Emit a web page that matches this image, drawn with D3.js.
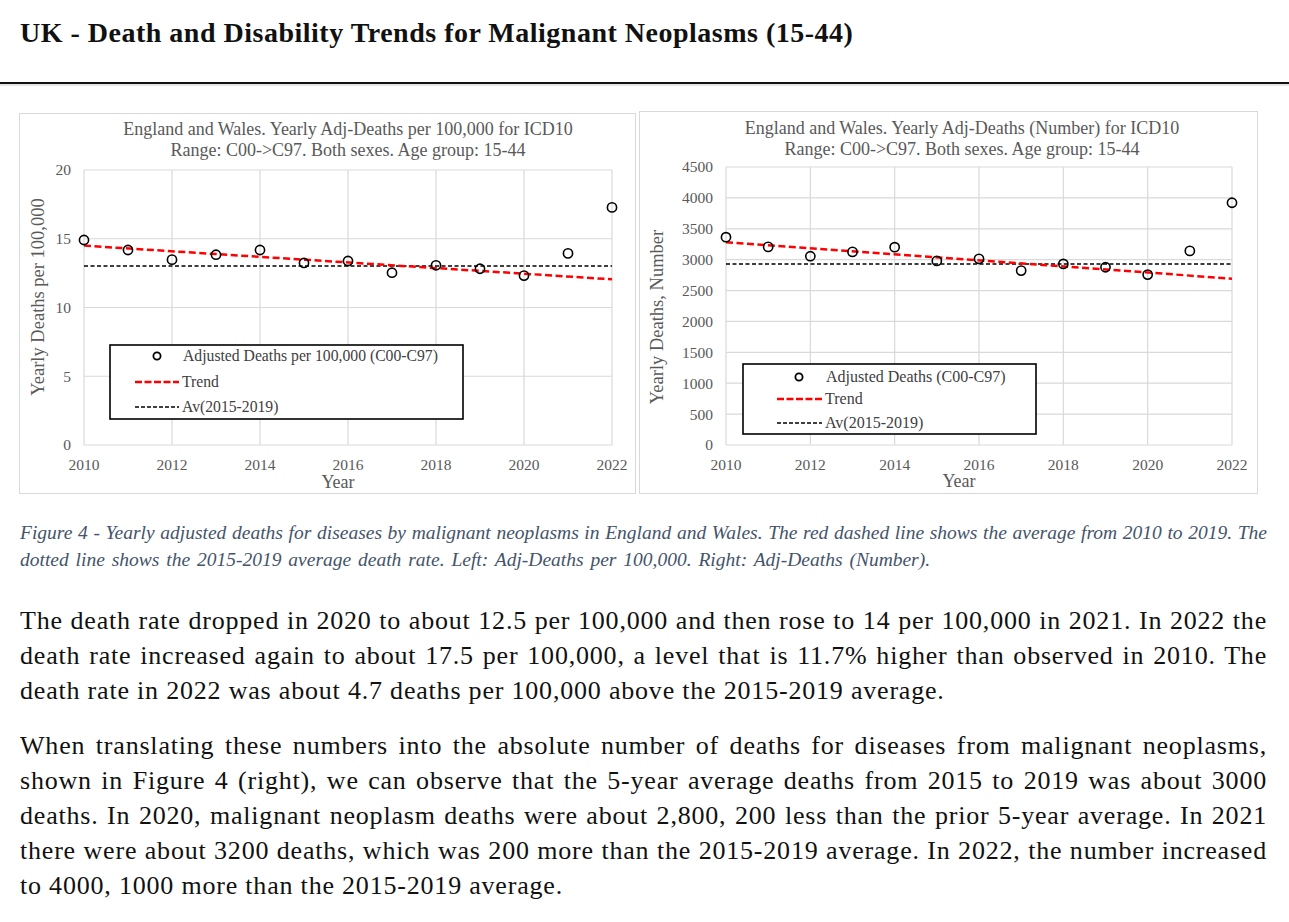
<!DOCTYPE html>
<html>
  <head>
    <meta charset="utf-8">
    <title>UK - Malignant Neoplasms (15-44)</title>
    <script src="https://cdn.jsdelivr.net/npm/d3@7/dist/d3.min.js"></script>
    <style>
      body { margin: 0; background: #fff; font-family: "Liberation Serif", "DejaVu Serif", serif; }
      #page { position: relative; width: 1289px; height: 922px; overflow: hidden; }
      svg { position: absolute; left: 0; top: 0; }
      .line { position: absolute; left: 20px; width: 1247px; white-space: nowrap; text-align: justify; }
      .line.full { text-align-last: justify; }
      .cap { font-style: italic; font-size: 19.5px; line-height: 27px; color: #44546a; }
      .cap.last { word-spacing: 2px; }
      .body { font-size: 26px; line-height: 35px; letter-spacing: 0.8px; color: #111; }
    </style>
  </head>
  <body>
    <div id="page"></div>
    <script>
      // values
      var years = [2010, 2011, 2012, 2013, 2014, 2015, 2016, 2017, 2018, 2019, 2020, 2021, 2022];
      var ratePer100k = [14.91, 14.18, 13.48, 13.84, 14.18, 13.24, 13.38, 12.53, 13.07, 12.82, 12.32, 13.94, 17.28];
      var deathsNumber = [3364, 3207, 3056, 3126, 3202, 2980, 3013, 2823, 2931, 2877, 2758, 3142, 3921];
      var lineYears = [2010, 2022];
      var rateTrend = [14.5, 12.05];
      var numberTrend = [3283, 2693];
      var rateAvg = [13.02, 13.02];
      var numberAvg = [2930, 2930];
      var xTicks = [2010, 2012, 2014, 2016, 2018, 2020, 2022];
      var rateTicks = [0, 5, 10, 15, 20];
      var numberTicks = [0, 500, 1000, 1500, 2000, 2500, 3000, 3500, 4000, 4500];

      var page = d3.select("#page");
      var svg = page.append("svg").attr("width", 1289).attr("height", 922);

      // heading + rule
      svg.append("text").attr("x", 20).attr("y", 42)
          .attr("font-size", 28).attr("font-weight", "bold").attr("letter-spacing", 0.5).attr("fill", "#111")
          .text("UK - Death and Disability Trends for Malignant Neoplasms (15-44)");
      svg.append("line").attr("x1", 0).attr("x2", 1289).attr("y1", 83).attr("y2", 83)
          .attr("stroke", "#111").attr("stroke-width", 2);
      svg.append("line").attr("x1", 0).attr("x2", 1289).attr("y1", 85).attr("y2", 85)
          .attr("stroke", "#ccc").attr("stroke-width", 1);

      function drawChart(c) {
        var g = svg.append("g");
        g.append("rect").attr("x", c.box[0]).attr("y", c.box[1])
            .attr("width", c.box[2]).attr("height", c.box[3])
            .attr("fill", "#fff").attr("stroke", "#d9d9d9");

        var x = d3.scaleLinear().domain([2010, 2022]).range([c.plot[0], c.plot[1]]);
        var y = d3.scaleLinear().domain([0, c.yMax]).range([c.plot[3], c.plot[2]]);

        // gridlines
        g.selectAll(".hg").data(c.yTicks).enter().append("line")
            .attr("x1", x(2010)).attr("x2", x(2022))
            .attr("y1", function (d) { return y(d); }).attr("y2", function (d) { return y(d); })
            .attr("stroke", "#d9d9d9").attr("stroke-width", 1.2);
        g.selectAll(".vg").data(xTicks).enter().append("line")
            .attr("x1", function (d) { return x(d); }).attr("x2", function (d) { return x(d); })
            .attr("y1", y(0)).attr("y2", y(c.yMax))
            .attr("stroke", "#d9d9d9").attr("stroke-width", 1.2);

        // tick labels
        g.selectAll(".yt").data(c.yTicks).enter().append("text")
            .attr("x", c.plot[0] - 13).attr("y", function (d) { return y(d); })
            .attr("dy", "0.35em").attr("text-anchor", "end")
            .attr("font-size", 15.5).attr("fill", "#595959").text(function (d) { return d; });
        g.selectAll(".xt").data(xTicks).enter().append("text")
            .attr("x", function (d) { return x(d); }).attr("y", y(0) + 25)
            .attr("text-anchor", "middle")
            .attr("font-size", 15.5).attr("fill", "#595959").text(function (d) { return d; });

        // titles
        g.selectAll(".tt").data(c.title).enter().append("text")
            .attr("x", c.titleX).attr("y", function (d, i) { return c.titleY + i * 21; })
            .attr("text-anchor", "middle").attr("font-size", 18).attr("fill", "#595959")
            .text(function (d) { return d; });
        g.append("text").attr("x", c.xLabel[0]).attr("y", c.xLabel[1])
            .attr("text-anchor", "middle").attr("font-size", 18).attr("fill", "#595959").text("Year");
        g.append("text").attr("transform", "translate(" + c.yLabel[0] + "," + c.yLabel[1] + ") rotate(-90)")
            .attr("text-anchor", "middle").attr("font-size", 18.5).attr("fill", "#595959").text(c.yTitle);

        // reference lines
        var ln = d3.line().x(function (d) { return x(d[0]); }).y(function (d) { return y(d[1]); });
        g.append("path").attr("d", ln(d3.zip(lineYears, c.avg)))
            .attr("fill", "none").attr("stroke", "#000").attr("stroke-width", 1.5)
            .attr("stroke-dasharray", "4,2.5");
        g.append("path").attr("d", ln(d3.zip(lineYears, c.trend)))
            .attr("fill", "none").attr("stroke", "#ff0000").attr("stroke-width", 2.5)
            .attr("stroke-dasharray", "7,3.5");

        // points
        g.selectAll(".pt").data(d3.zip(years, c.values)).enter().append("circle")
            .attr("cx", function (d) { return x(d[0]); }).attr("cy", function (d) { return y(d[1]); })
            .attr("r", 4.6).attr("fill", "none").attr("stroke", "#000").attr("stroke-width", 1.6);

        // legend
        var L = c.legend;
        g.append("rect").attr("x", L.box[0]).attr("y", L.box[1]).attr("width", L.box[2]).attr("height", L.box[3])
            .attr("fill", "#fff").attr("stroke", "#000").attr("stroke-width", 1.6);
        g.append("circle").attr("cx", L.marker).attr("cy", L.rows[0]).attr("r", 3.6)
            .attr("fill", "none").attr("stroke", "#000").attr("stroke-width", 1.8);
        g.append("line").attr("x1", L.line[0]).attr("x2", L.line[1]).attr("y1", L.rows[1]).attr("y2", L.rows[1])
            .attr("stroke", "#ff0000").attr("stroke-width", 2.5).attr("stroke-dasharray", "7,2.5");
        g.append("line").attr("x1", L.line[0]).attr("x2", L.line[1]).attr("y1", L.rows[2]).attr("y2", L.rows[2])
            .attr("stroke", "#000").attr("stroke-width", 1.4).attr("stroke-dasharray", "4,2");
        g.selectAll(".lt").data(L.labels).enter().append("text")
            .attr("x", function (d, i) { return i === 0 ? L.text0 : L.line[1] + 3; })
            .attr("y", function (d, i) { return L.rows[i]; }).attr("dy", "0.33em")
            .attr("font-size", L.size).attr("fill", "#404040").text(function (d) { return d; });
      }

      drawChart({
        box: [19.5, 113.5, 616, 380],
        plot: [84, 612, 170, 445],
        yMax: 20, yTicks: rateTicks, values: ratePer100k, trend: rateTrend, avg: rateAvg,
        title: ["England and Wales. Yearly Adj-Deaths per 100,000 for ICD10",
                "Range: C00->C97. Both sexes. Age group: 15-44"],
        titleX: 348, titleY: 135,
        xLabel: [338, 488], yLabel: [44, 297], yTitle: "Yearly Deaths per 100,000",
        legend: { box: [110, 345, 353, 74], rows: [356, 382, 407], marker: 157, text0: 183,
                  line: [135, 179], size: 15.7,
                  labels: ["Adjusted Deaths per 100,000 (C00-C97)", "Trend", "Av(2015-2019)"] }
      });

      drawChart({
        box: [639.5, 111.5, 618, 382],
        plot: [726, 1232, 167, 445],
        yMax: 4500, yTicks: numberTicks, values: deathsNumber, trend: numberTrend, avg: numberAvg,
        title: ["England and Wales. Yearly Adj-Deaths (Number) for ICD10",
                "Range: C00->C97. Both sexes. Age group: 15-44"],
        titleX: 962, titleY: 134,
        xLabel: [959, 487], yLabel: [663, 317], yTitle: "Yearly Deaths, Number",
        legend: { box: [743, 364, 293, 70], rows: [377, 399, 423], marker: 799, text0: 826,
                  line: [777, 822], size: 16,
                  labels: ["Adjusted Deaths (C00-C97)", "Trend", "Av(2015-2019)"] }
      });

      // caption and body text, one line per row to keep the original breaks
      var captionLines = [
        "Figure 4 - Yearly adjusted deaths for diseases by malignant neoplasms in England and Wales. The red dashed line shows the average from 2010 to 2019. The",
        "dotted line shows the 2015-2019 average death rate. Left: Adj-Deaths per 100,000. Right: Adj-Deaths (Number)."
      ];
      var para1 = [
        "The death rate dropped in 2020 to about 12.5 per 100,000 and then rose to 14 per 100,000 in 2021. In 2022 the",
        "death rate increased again to about 17.5 per 100,000, a level that is 11.7% higher than observed in 2010. The",
        "death rate in 2022 was about 4.7 deaths per 100,000 above the 2015-2019 average."
      ];
      var para2 = [
        "When translating these numbers into the absolute number of deaths for diseases from malignant neoplasms,",
        "shown in Figure 4 (right), we can observe that the 5-year average deaths from 2015 to 2019 was about 3000",
        "deaths. In 2020, malignant neoplasm deaths were about 2,800, 200 less than the prior 5-year average. In 2021",
        "there were about 3200 deaths, which was 200 more than the 2015-2019 average. In 2022, the number increased",
        "to 4000, 1000 more than the 2015-2019 average."
      ];

      function addLines(lines, cls, top, step) {
        page.selectAll(null).data(lines).enter().append("div")
            .attr("class", function (d, i) { return "line " + cls + (i < lines.length - 1 ? " full" : " last"); })
            .style("top", function (d, i) { return (top + i * step) + "px"; })
            .text(function (d) { return d; });
      }
      addLines(captionLines, "cap", 519, 27);
      addLines(para1, "body", 603, 35);
      addLines(para2, "body", 728, 35);
    </script>
  </body>
</html>
